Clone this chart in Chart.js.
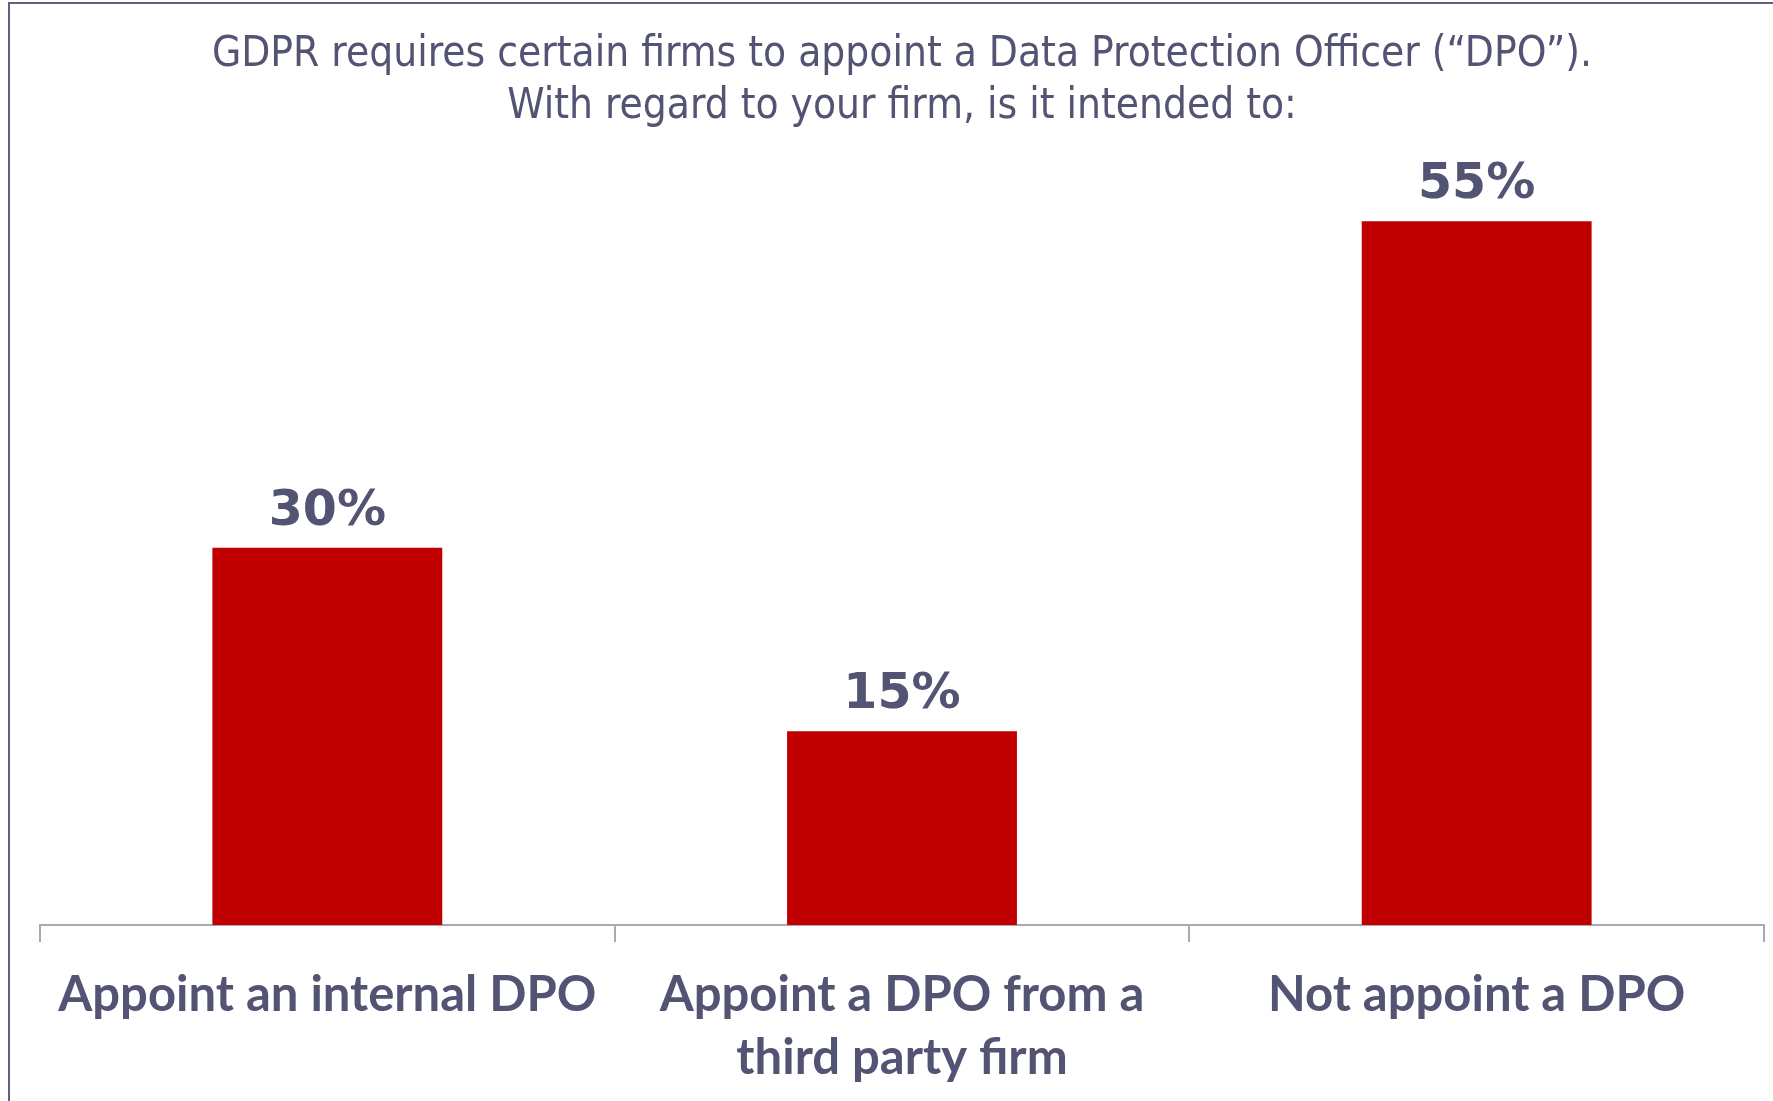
<!DOCTYPE html>
<html>
<head>
<meta charset="utf-8">
<script src="https://cdn.jsdelivr.net/npm/chart.js@4"></script>
<style>
  html, body { margin: 0; padding: 0; background: #fff; }
  #wrap { width: 1773px; height: 1101px; }
</style>
</head>
<body>
<div id="wrap"><canvas id="dpoChart" width="1773" height="1101"></canvas></div>
<script>
const categories = [
    ['Appoint an internal DPO'],
    ['Appoint a DPO from a', 'third party firm'],
    ['Not appoint a DPO']
];
// bar heights; labels show them rounded
const values = [29.6, 15.2, 55.2];
const titleLines = [
    'GDPR requires certain firms to appoint a Data Protection Officer (\u201CDPO\u201D).',
    'With regard to your firm, is it intended to:'
];

const textColor = '#535373';
const barColor = '#c00000';
const axisColor = '#a9a9b2';
const frameColor = '#62627f';

/* рамка слева и сверху */
const framePlugin = {
    id: 'frame',
    afterDraw(chart) {
        const ctx = chart.ctx;
        ctx.save();
        ctx.strokeStyle = frameColor;
        ctx.lineWidth = 2;
        ctx.beginPath();
        ctx.moveTo(9, chart.height);
        ctx.lineTo(9, 3);
        ctx.lineTo(chart.width, 3);
        ctx.stroke();
        ctx.restore();
    }
};

/* подписи значений над столбцами */
const valueLabels = {
    id: 'valueLabels',
    afterDatasetsDraw(chart) {
        const ctx = chart.ctx;
        const meta = chart.getDatasetMeta(0);
        ctx.save();
        ctx.fillStyle = textColor;
        ctx.font = 'bold 49px "DejaVu Sans"';
        ctx.textAlign = 'center';
        ctx.textBaseline = 'alphabetic';
        meta.data.forEach((bar, i) => {
            ctx.fillText(Math.round(values[i]) + '%', bar.x, bar.y - 23);
        });
        ctx.restore();
    }
};

const ctx = document.getElementById('dpoChart').getContext('2d');

new Chart(ctx, {
    type: 'bar',
    data: {
        labels: categories,
        datasets: [{
            data: values,
            backgroundColor: barColor,
            borderWidth: 0,
            barPercentage: 0.4,
            categoryPercentage: 1.0
        }]
    },
    options: {
        responsive: false,
        animation: false,
        layout: {
            padding: { left: 40, right: 9, top: 0, bottom: 0 }
        },
        plugins: {
            legend: { display: false },
            tooltip: { enabled: false },
            title: {
                display: true,
                text: titleLines,
                color: textColor,
                font: { family: '"DejaVu Sans Condensed", "DejaVu Sans"', size: 42, weight: 'normal', lineHeight: 1.24 },
                padding: { top: 29, bottom: 27 }
            }
        },
        scales: {
            x: {
                grid: {
                    offset: true,
                    drawOnChartArea: false,
                    drawTicks: true,
                    tickLength: 17,
                    color: axisColor,
                    lineWidth: 2
                },
                border: { display: true, color: axisColor, width: 2 },
                ticks: {
                    color: textColor,
                    font: { family: 'Lato', weight: 'bold', size: 49, lineHeight: 1.3 },
                    padding: 21,
                    maxRotation: 0,
                    autoSkip: false
                },
                afterFit(scale) {
                    scale.height = 176;
                }
            },
            y: {
                display: false,
                min: 0,
                max: 60
            }
        }
    },
    plugins: [framePlugin, valueLabels]
});
</script>
</body>
</html>
